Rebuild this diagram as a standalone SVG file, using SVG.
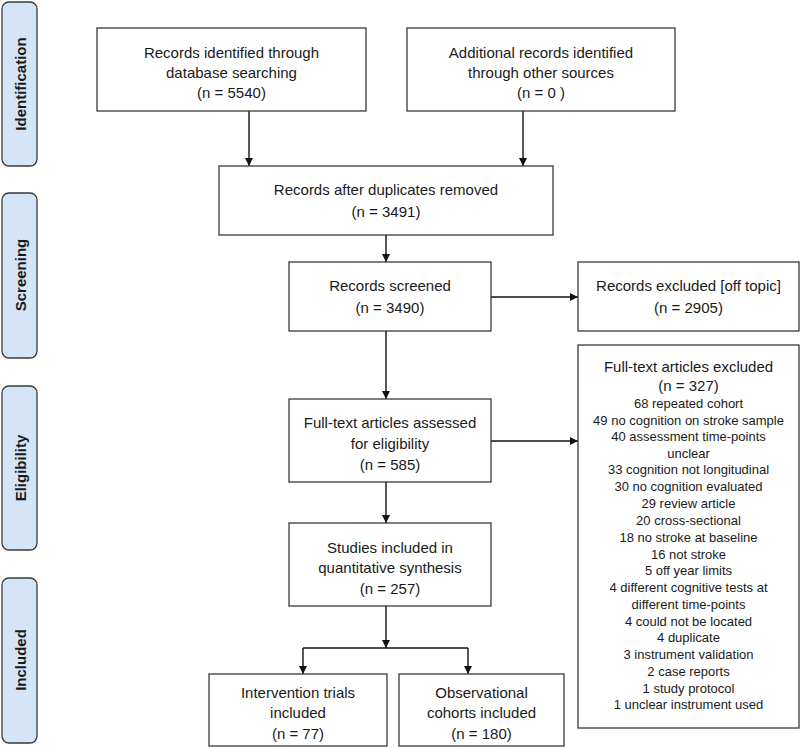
<svg xmlns="http://www.w3.org/2000/svg" width="800" height="748" viewBox="0 0 800 748">
<style>
.box{fill:#fff;stroke:#3a3a3a;stroke-width:1.3}
.side{fill:#d3e5f7;stroke:#3a3a3a;stroke-width:1.3}
.t{font-family:"Liberation Sans",Arial,sans-serif;font-size:15px;fill:#1a1a1a;text-anchor:middle;dominant-baseline:central}
.s{font-family:"Liberation Sans",Arial,sans-serif;font-size:13px;fill:#1a1a1a;text-anchor:middle;dominant-baseline:central}
.lab{font-family:"Liberation Sans",Arial,sans-serif;font-size:15px;font-weight:bold;fill:#1a1a1a;text-anchor:middle;dominant-baseline:central}
.c{fill:none;stroke:#111;stroke-width:1.4}
</style>
<defs>
<marker id="ah" viewBox="0 0 10 10" refX="10" refY="5" markerWidth="8" markerHeight="8" markerUnits="userSpaceOnUse" orient="auto">
<path d="M0,0 L10,5 L0,10 z" fill="#111"/>
</marker>
</defs>
<rect width="800" height="748" fill="#fff"/>
<g id="phase-identification"><rect class="side" x="2" y="2" width="35" height="164" rx="7"/><text class="lab" transform="translate(20,84) rotate(-90)">Identification</text></g>
<g id="phase-screening"><rect class="side" x="2" y="193" width="35" height="165" rx="7"/><text class="lab" transform="translate(20,275) rotate(-90)">Screening</text></g>
<g id="phase-eligibility"><rect class="side" x="2" y="386" width="35" height="164" rx="7"/><text class="lab" transform="translate(20,468) rotate(-90)">Eligibility</text></g>
<g id="phase-included"><rect class="side" x="2" y="578" width="35" height="165" rx="7"/><text class="lab" transform="translate(20,660) rotate(-90)">Included</text></g>

<g id="connectors">
<line class="c" x1="249" y1="111" x2="249" y2="166" marker-end="url(#ah)"/>
<line class="c" x1="523" y1="111" x2="523" y2="166" marker-end="url(#ah)"/>
<line class="c" x1="386" y1="235" x2="386" y2="262" marker-end="url(#ah)"/>
<line class="c" x1="491" y1="297" x2="578" y2="297" marker-end="url(#ah)"/>
<line class="c" x1="386" y1="331" x2="386" y2="399" marker-end="url(#ah)"/>
<line class="c" x1="491" y1="441" x2="578" y2="441" marker-end="url(#ah)"/>
<line class="c" x1="386" y1="482" x2="386" y2="523" marker-end="url(#ah)"/>
<line class="c" x1="386" y1="606" x2="386" y2="648" marker-end="url(#ah)"/>
<line class="c" x1="303" y1="648" x2="468" y2="648"/>
<line class="c" x1="303" y1="648" x2="303" y2="674" marker-end="url(#ah)"/>
<line class="c" x1="468" y1="648" x2="468" y2="674" marker-end="url(#ah)"/>
</g>

<g id="n-database"><rect class="box" x="97" y="28" width="269" height="83"/>
<text class="t" x="231.5" y="52">Records identified through</text>
<text class="t" x="231.5" y="72">database searching</text>
<text class="t" x="231.5" y="92">(n = 5540)</text></g>

<g id="n-other"><rect class="box" x="407" y="28" width="268" height="83"/>
<text class="t" x="541" y="52">Additional records identified</text>
<text class="t" x="541" y="72">through other sources</text>
<text class="t" x="541" y="92">(n = 0 )</text></g>

<g id="n-dedup"><rect class="box" x="219" y="166" width="334" height="69"/>
<text class="t" x="386" y="189">Records after duplicates removed</text>
<text class="t" x="386" y="211">(n = 3491)</text></g>

<g id="n-screened"><rect class="box" x="289" y="262" width="202" height="69"/>
<text class="t" x="390" y="285">Records screened</text>
<text class="t" x="390" y="307">(n = 3490)</text></g>

<g id="n-excluded"><rect class="box" x="578" y="262" width="221" height="69"/>
<text class="t" x="688.5" y="285">Records excluded [off topic]</text>
<text class="t" x="688.5" y="307">(n = 2905)</text></g>

<g id="n-fulltext"><rect class="box" x="289" y="399" width="202" height="83"/>
<text class="t" x="390" y="422">Full-text articles assessed</text>
<text class="t" x="390" y="443">for eligibility</text>
<text class="t" x="390" y="464">(n = 585)</text></g>

<g id="n-ftexcluded"><rect class="box" x="578" y="345" width="221" height="383"/>
<text class="t" x="688.5" y="366">Full-text articles excluded</text>
<text class="t" x="688.5" y="385">(n = 327)</text>
<text class="s" x="688.5" y="403">68 repeated cohort</text>
<text class="s" x="688.5" y="420">49 no cognition on stroke sample</text>
<text class="s" x="688.5" y="436">40 assessment time-points</text>
<text class="s" x="688.5" y="453">unclear</text>
<text class="s" x="688.5" y="469">33 cognition not longitudinal</text>
<text class="s" x="688.5" y="486">30 no cognition evaluated</text>
<text class="s" x="688.5" y="503">29 review article</text>
<text class="s" x="688.5" y="520">20 cross-sectional</text>
<text class="s" x="688.5" y="537">18 no stroke at baseline</text>
<text class="s" x="688.5" y="554">16 not stroke</text>
<text class="s" x="688.5" y="570">5 off year limits</text>
<text class="s" x="688.5" y="587">4 different cognitive tests at</text>
<text class="s" x="688.5" y="604">different time-points</text>
<text class="s" x="688.5" y="621">4 could not be located</text>
<text class="s" x="688.5" y="637">4 duplicate</text>
<text class="s" x="688.5" y="654">3 instrument validation</text>
<text class="s" x="688.5" y="671">2 case reports</text>
<text class="s" x="688.5" y="688">1 study protocol</text>
<text class="s" x="688.5" y="704">1 unclear instrument used</text></g>

<g id="n-synthesis"><rect class="box" x="289" y="523" width="202" height="83"/>
<text class="t" x="390" y="547">Studies included in</text>
<text class="t" x="390" y="567">quantitative synthesis</text>
<text class="t" x="390" y="588">(n = 257)</text></g>

<g id="n-intervention"><rect class="box" x="209" y="674" width="178" height="72"/>
<text class="t" x="298" y="692">Intervention trials</text>
<text class="t" x="298" y="712">included</text>
<text class="t" x="298" y="733">(n = 77)</text></g>

<g id="n-observational"><rect class="box" x="399" y="674" width="165" height="72"/>
<text class="t" x="481.5" y="692">Observational</text>
<text class="t" x="481.5" y="712">cohorts included</text>
<text class="t" x="481.5" y="733">(n = 180)</text></g>
</svg>
